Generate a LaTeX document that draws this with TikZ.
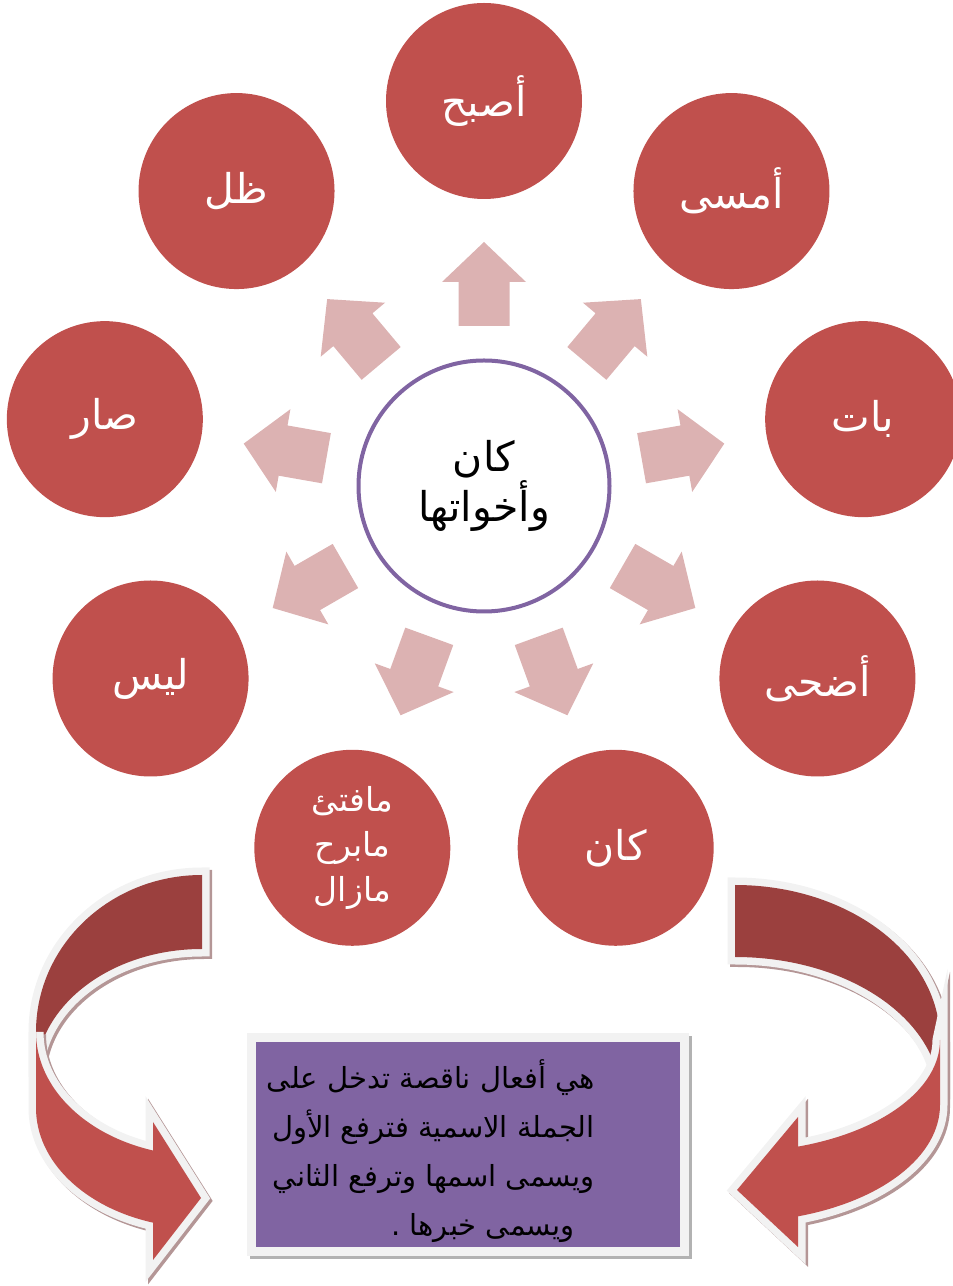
\documentclass[tikz,border=0pt]{standalone}
\usepackage{fontspec}
\usepackage{xcolor}
\usepackage{tikz}
\usetikzlibrary{shadows}
\TeXXeTstate=1
\newfontfamily\arabicfont[Script=Arabic]{DejaVu Sans}

\definecolor{verbred}{HTML}{C0504D}
\definecolor{backred}{HTML}{9B403E}
\definecolor{framegray}{HTML}{F2F2F2}
\definecolor{boxpurple}{HTML}{8064A2}
\definecolor{spokepink}{HTML}{DCB2B2}
\definecolor{shadowred}{HTML}{B49696}

\tikzset{
	verb/.style={circle, fill=verbred, minimum size=196pt, inner sep=0pt, text=white, align=center, font=\arabicfont\fontsize{41}{46}\selectfont},
	hub/.style={circle, draw=boxpurple, line width=4pt, fill=white, minimum size=251pt, inner sep=0pt, align=center, font=\arabicfont\fontsize{41}{50}\selectfont},
	spoke/.style={fill=spokepink},
	softshadow/.style={preaction={fill=#1, draw=#1, line width=15pt, transform canvas={shift={(2.5pt,-2.5pt)}}}},
	band/.style={softshadow=shadowred, preaction={draw=framegray, line width=15pt}},
	infobox/.style={rectangle, fill=boxpurple, draw=framegray, line width=9pt, minimum width=433pt, minimum height=214pt, preaction={fill=gray!60, draw=gray!60, line width=9pt, transform canvas={shift={(3pt,-3pt)}}}},
	deftext/.style={align=right, inner sep=0pt, text=black, font=\arabicfont\fontsize{29}{49}\selectfont}
}

\begin{document}
\begin{tikzpicture}[x=1pt, y=1pt]
		\useasboundingbox (0,0) rectangle (953,1286);

		% the verbs round the hub
		\begin{scope}[shift={(484,800)}]
			\node[hub] (kana) at (0,0) {\beginR كان\endR\\\beginR وأخواتها\endR};

			\foreach \a in {90,50,10,-30,-70,-110,-150,170,130}
				\fill[spoke, rotate=\a] (160,-25.5) -- (204,-25.5) -- (204,-42) -- (244,0) -- (204,42) -- (204,25.5) -- (160,25.5) -- cycle;

			\node[verb] (asbaha) at (90:385) {\beginR أصبح\endR};
			\node[verb] (amsa) at (50:385) {\beginR أمسى\endR};
			\node[verb] (bata) at (10:385) {\beginR بات\endR};
			\node[verb] (adha) at (-30:385) {\beginR أضحى\endR};
			\node[verb] (kaana) at (-70:385) {\beginR كان\endR};
			\node[verb, font=\arabicfont\fontsize{33}{45}\selectfont] (mafatia) at (-110:385) {
				\beginR مافتئ\endR\\\beginR مابرح\endR\\\beginR مازال\endR
			};
			\node[verb] (laysa) at (-150:385) {\beginR ليس\endR};
			\node[verb] (sara) at (170:385) {\beginR صار\endR};
			\node[verb] (zalla) at (130:385) {\beginR ظل\endR};
		\end{scope}

		% left curved arrow
		\path[band, fill=backred] (202,411) arc[start angle=90, end angle=180, x radius=166, y radius=157]
			-- (36,209) arc[start angle=180, end angle=90, x radius=166, y radius=128] -- cycle;
		\path[band, fill=verbred] (36,254) -- (36,178) arc[start angle=180, end angle=252.83, x radius=166, y radius=120]
			-- (153,26) -- (201,88) -- (153,164) -- (153,135.5)
			arc[start angle=252.83, end angle=180, x radius=166, y radius=124] -- cycle;

		% right curved arrow
		\path[band, fill=backred] (735,401) arc[start angle=90, end angle=0, x radius=205, y radius=155]
			-- (940,189) arc[start angle=0, end angle=90, x radius=205, y radius=140] -- cycle;
		\path[band, fill=verbred] (940,246) -- (940,181) arc[start angle=0, end angle=-72.10, x radius=205, y radius=117]
			-- (798,39) -- (737,96) -- (798,169) -- (798,139.4)
			arc[start angle=-72.10, end angle=0, x radius=205, y radius=112] -- cycle;

		% definition
		\node[infobox] (def) at (468,141.5) {};
		\node[deftext, anchor=north east] (deftxt) at (595,227) {
			\beginR هي أفعال ناقصة تدخل على\endR\\
			\beginR الجملة الاسمية فترفع الأول\endR\\
			\beginR ويسمى اسمها وترفع الثاني\endR\\
			\beginR\hspace*{20pt}ويسمى خبرها .\endR
		};

	\end{tikzpicture}
\end{document}
